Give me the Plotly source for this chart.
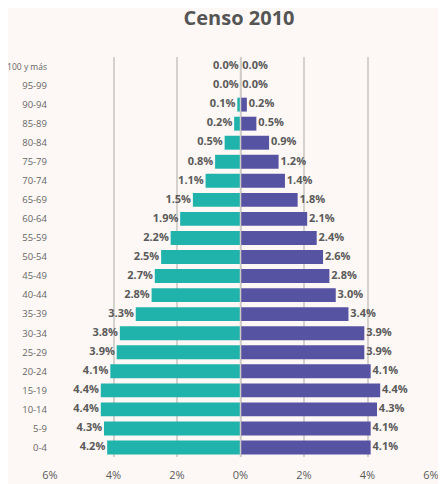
import plotly.graph_objects as go

# age groups, top to bottom as in the chart, reversed later for the y axis
grupos = ["100 y más", "95-99", "90-94", "85-89", "80-84", "75-79", "70-74", "65-69",
          "60-64", "55-59", "50-54", "45-49", "40-44", "35-39", "30-34", "25-29",
          "20-24", "15-19", "10-14", "5-9", "0-4"]
hombres = [0.0, 0.0, 0.1, 0.2, 0.5, 0.8, 1.1, 1.5, 1.9, 2.2, 2.5, 2.7, 2.8, 3.3, 3.8, 3.9,
           4.1, 4.4, 4.4, 4.3, 4.2]
mujeres = [0.0, 0.0, 0.2, 0.5, 0.9, 1.2, 1.4, 1.8, 2.1, 2.4, 2.6, 2.8, 3.0, 3.4, 3.9, 3.9,
           4.1, 4.4, 4.3, 4.1, 4.1]
ticks = [-6, -4, -2, 0, 2, 4, 6]
tick_text = ["6%", "4%", "2%", "0%", "2%", "4%", "6%"]

bg = "#fdf8f5"
txt = "#555555"
lbl_font = dict(family="Open Sans", size=11, color="#5a5a5a")
thin = "\u2009"

# the longest age label is set a bit smaller so it fits left of the axis
y_ticktext = ['<span style="font-size:8.5px">%s</span>' % g if len(g) > 5 else g
              for g in grupos]

fig = go.Figure()
fig.add_trace(go.Bar(y=grupos, x=[-v for v in hombres], orientation="h",
                     marker=dict(color="#1fb3ab", line_width=0), hoverinfo="skip"))
fig.add_trace(go.Bar(y=grupos, x=mujeres, orientation="h",
                     marker=dict(color="#5753a3", line_width=0), hoverinfo="skip"))

# value labels next to the bar ends
fig.add_trace(go.Scatter(y=grupos, x=[-v for v in hombres], mode="text",
                         text=["<b>%.1f%%</b>%s" % (v, thin) for v in hombres],
                         textposition="middle left", textfont=lbl_font, hoverinfo="skip"))
fig.add_trace(go.Scatter(y=grupos, x=mujeres, mode="text",
                         text=["%s<b>%.1f%%</b>" % (thin, v) for v in mujeres],
                         textposition="middle right", textfont=lbl_font, hoverinfo="skip"))

fig.add_shape(type="line", xref="x", yref="paper", x0=0, x1=0, y0=0, y1=1,
              line=dict(color="#cfcbc7", width=1.5), layer="above")

# page body has an 8px default margin, so the margins are shifted to compensate
fig.update_layout(
    width=446, height=484,
    paper_bgcolor=bg, plot_bgcolor=bg,
    barmode="overlay", bargap=0.27,
    showlegend=False,
    margin=dict(l=42, r=23, t=49, b=35),
    title=dict(text="<b>Censo 2010</b>", x=0.518, xanchor="center", y=0.993, yanchor="top",
               pad=dict(t=0), font=dict(family="Open Sans", size=20, color=txt)),
    font=dict(family="Open Sans", color=txt),
)
fig.update_xaxes(range=[-6, 6], tickvals=ticks, ticktext=tick_text,
                 showgrid=True, gridcolor="#d5d1cd", gridwidth=2,
                 zeroline=False, showline=False, automargin=False,
                 ticklabelstandoff=10,
                 tickfont=dict(family="Open Sans", size=11, color="#5a5a5a"))
fig.update_yaxes(categoryorder="array", categoryarray=grupos[::-1],
                 tickvals=grupos, ticktext=y_ticktext,
                 range=[-0.5, len(grupos) - 0.5],
                 showgrid=False, zeroline=False, ticks="", automargin=False,
                 ticklabelstandoff=2,
                 tickfont=dict(family="Open Sans", size=9.5, color="#666666"))

fig.write_html("out.html")
